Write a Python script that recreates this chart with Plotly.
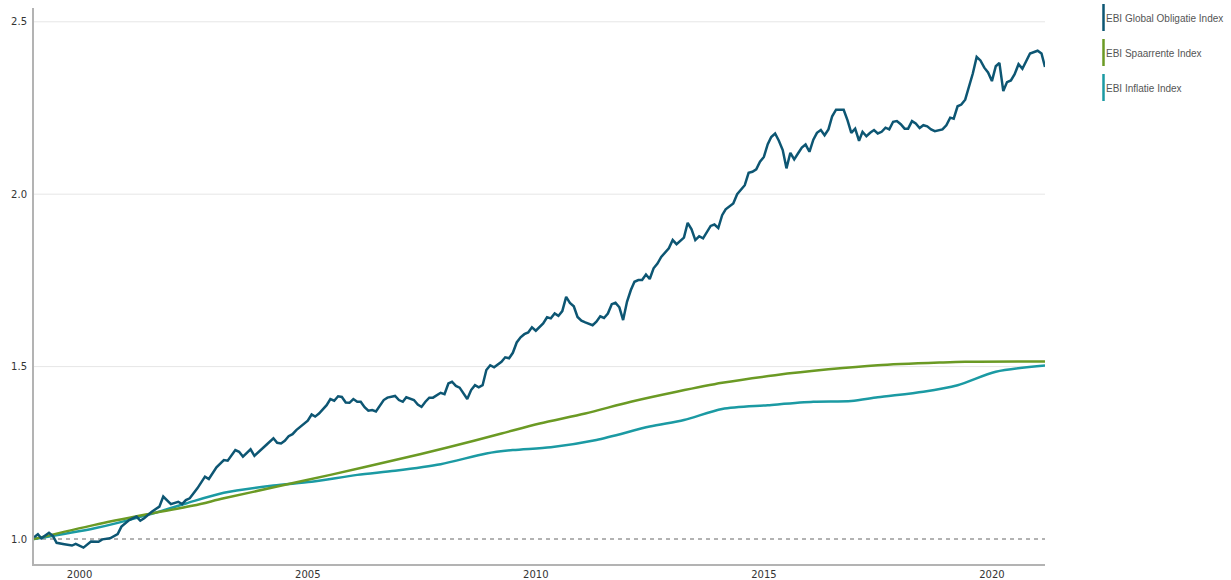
import plotly.graph_objects as go

# ---------------- data (month index from 1999-01, value) ----------------
global_months = [0, 1, 2, 4, 5, 6, 8, 10, 11, 12, 13, 15, 17, 18, 20, 22, 23, 25, 27, 28, 29, 31, 33, 34, 35, 36, 38, 39, 40, 41, 43, 45, 46, 48, 50, 51, 53, 54, 55, 57, 58, 60, 61, 63, 64, 65, 66, 67, 68,
                 69, 71, 72, 73, 74, 75, 77, 78, 79, 80, 81, 82, 83, 84, 85, 86, 87, 88, 89, 90, 91, 92, 93, 95, 96, 97, 98, 99, 100, 101, 102, 103, 104, 105, 106, 107, 108, 109, 110, 111, 112, 113, 114, 115, 116, 117, 118, 119, 120, 121, 122, 123, 124, 125, 126, 127, 128,
                 129, 130, 131, 132, 134, 135, 136, 137, 138, 139, 140, 141, 142, 143, 144, 145, 147, 148, 149, 150, 151, 152, 153, 154, 155, 156, 157, 158, 159, 160, 161, 162, 163, 164, 165, 167, 168, 169, 171, 172, 173, 174, 175, 176, 177, 178, 179, 180, 181, 182, 184, 185, 187,
                 188, 189, 190, 191, 192, 193, 194, 195, 196, 197, 198, 199, 200, 201, 202, 203, 204, 205, 206, 207, 208, 209, 210, 211, 212, 213, 214, 215, 216, 217, 218, 219, 220, 221, 222, 223, 224, 225, 226, 227, 228, 229, 230, 231, 232, 233, 234, 235, 236, 237, 239, 240,
                 241, 242, 243, 244, 245, 246, 247, 248, 249, 250, 251, 252, 253, 254, 255, 256, 257, 258, 259, 260, 261, 262, 264, 265, 266]
global_values = [1.005, 1.014, 1.002, 1.018, 1.009, 0.989, 0.985, 0.981, 0.986, 0.981, 0.975, 0.993, 0.992, 0.999, 1.002, 1.014, 1.036, 1.055, 1.065, 1.053, 1.060, 1.079, 1.094, 1.123, 1.113, 1.101, 1.108, 1.101, 1.113, 1.118, 1.147, 1.181, 1.174, 1.208, 1.229, 1.227, 1.258, 1.253, 1.239, 1.260, 1.241, 1.263, 1.272, 1.292, 1.279, 1.277, 1.285, 1.298, 1.304,
                 1.316, 1.335, 1.343, 1.361, 1.355, 1.364, 1.388, 1.406, 1.401, 1.414, 1.412, 1.396, 1.395, 1.406, 1.398, 1.398, 1.382, 1.372, 1.374, 1.370, 1.388, 1.403, 1.410, 1.415, 1.403, 1.398, 1.411, 1.406, 1.403, 1.390, 1.383, 1.398, 1.410, 1.410, 1.417, 1.424, 1.420, 1.451, 1.456, 1.444, 1.439, 1.424, 1.406, 1.432, 1.446, 1.440, 1.446, 1.490, 1.504, 1.498, 1.506, 1.514, 1.527, 1.524, 1.540, 1.570, 1.585,
                 1.594, 1.599, 1.614, 1.604, 1.625, 1.643, 1.640, 1.654, 1.647, 1.661, 1.702, 1.685, 1.675, 1.644, 1.633, 1.628, 1.620, 1.630, 1.646, 1.641, 1.654, 1.681, 1.685, 1.672, 1.635, 1.688, 1.722, 1.746, 1.751, 1.751, 1.767, 1.754, 1.785, 1.799, 1.818, 1.843, 1.867, 1.855, 1.874, 1.917, 1.898, 1.867, 1.878, 1.872, 1.888, 1.908, 1.912, 1.902, 1.939, 1.956, 1.973, 2.000, 2.026,
                 2.062, 2.065, 2.072, 2.094, 2.108, 2.145, 2.166, 2.176, 2.155, 2.128, 2.075, 2.120, 2.101, 2.118, 2.135, 2.144, 2.123, 2.158, 2.178, 2.186, 2.171, 2.188, 2.226, 2.245, 2.244, 2.245, 2.214, 2.178, 2.190, 2.155, 2.181, 2.168, 2.178, 2.186, 2.176, 2.181, 2.193, 2.188, 2.210, 2.212, 2.203, 2.190, 2.190, 2.212, 2.205, 2.192, 2.200, 2.197, 2.188, 2.183, 2.188, 2.200,
                 2.222, 2.219, 2.255, 2.260, 2.274, 2.311, 2.350, 2.398, 2.388, 2.367, 2.353, 2.328, 2.371, 2.381, 2.299, 2.325, 2.330, 2.348, 2.377, 2.364, 2.386, 2.408, 2.416, 2.408, 2.369]

spaar_months = [0, 16, 30, 42, 50, 64, 78, 95, 109, 123, 133, 145, 157, 169, 181, 195, 209, 222, 239, 245, 266]
spaar_values = [1.000, 1.041, 1.072, 1.097, 1.118, 1.152, 1.186, 1.229, 1.266, 1.306, 1.335, 1.364, 1.398, 1.427, 1.453, 1.475, 1.492, 1.504, 1.512, 1.514, 1.515]

infl_months = [0, 16, 30, 40, 50, 63, 73, 85, 95, 107, 119, 126, 136, 148, 162, 171, 181, 193, 205, 215, 222, 234, 243, 253, 266]
infl_values = [1.000, 1.031, 1.070, 1.103, 1.134, 1.155, 1.166, 1.186, 1.198, 1.217, 1.248, 1.258, 1.266, 1.287, 1.326, 1.345, 1.377, 1.388, 1.398, 1.400, 1.411, 1.427, 1.446, 1.485, 1.503]

series_names = ["EBI Global Obligatie Index", "EBI Spaarrente Index", "EBI Inflatie Index"]
series_colors = ["#0d5673", "#6b9a24", "#1b9aa3"]

y_ticks = [1.0, 1.5, 2.0, 2.5]
y_tick_text = ["1.0", "1.5", "2.0", "2.5"]
x_ticks = ["2000-01-01", "2005-01-01", "2010-01-01", "2015-01-01", "2020-01-01"]
x_tick_text = ["2000", "2005", "2010", "2015", "2020"]
baseline = 1.0


def to_date(m):
    return f"{1999 + m // 12}-{m % 12 + 1:02d}-01"


fig = go.Figure()
fig.add_trace(go.Scatter(x=[to_date(m) for m in infl_months], y=infl_values, mode="lines",
                         line=dict(color=series_colors[2], width=2.5, shape="spline", smoothing=0.8),
                         name=series_names[2], showlegend=False))
fig.add_trace(go.Scatter(x=[to_date(m) for m in spaar_months], y=spaar_values, mode="lines",
                         line=dict(color=series_colors[1], width=2.5, shape="spline", smoothing=0.8),
                         name=series_names[1], showlegend=False))
fig.add_trace(go.Scatter(x=[to_date(m) for m in global_months], y=global_values, mode="lines",
                         line=dict(color=series_colors[0], width=2.5),
                         name=series_names[0], showlegend=False))

W, H = 1231, 580
ml, mr, mt, mb = 34, 186, 8, 16
pw, ph = W - ml - mr, H - mt - mb

shapes = []
# grid lines (not at baseline)
for t in y_ticks:
    if t != baseline:
        shapes.append(dict(type="line", xref="paper", yref="y", x0=0, x1=1, y0=t, y1=t,
                           line=dict(color="#e6e6e6", width=1), layer="below"))
# dashed baseline
shapes.append(dict(type="line", xref="paper", yref="y", x0=0, x1=1, y0=baseline, y1=baseline,
                   line=dict(color="#666666", width=1, dash="4px,4px"), layer="below"))

annotations = []
legend_px_y = [18, 53, 88]
for name, col, py in zip(series_names, series_colors, legend_px_y):
    bx = (1103.5 - ml) / pw
    y0 = (H - mb - (py - 14)) / ph
    y1 = (H - mb - (py + 13)) / ph
    shapes.append(dict(type="line", xref="paper", yref="paper", x0=bx, x1=bx, y0=y0, y1=y1,
                       line=dict(color=col, width=2.5)))
    annotations.append(dict(xref="paper", yref="paper", x=(1104 - ml) / pw, y=(H - mb - py) / ph,
                            text=name, showarrow=False, xanchor="left", yanchor="middle",
                            font=dict(family="Liberation Sans, Arial", size=10, color="#555555")))

fig.update_layout(
    width=W, height=H,
    margin=dict(l=ml, r=mr, t=mt, b=mb, pad=0, autoexpand=False),
    plot_bgcolor="white", paper_bgcolor="white",
    shapes=shapes, annotations=annotations,
    showlegend=False,
    xaxis=dict(range=["1999-01-01", "2021-03-01"], tickvals=x_ticks, ticktext=x_tick_text,
               showgrid=False, zeroline=False, showline=True, linecolor="#b3b3b3", linewidth=2,
               ticks="", automargin=False,
               tickfont=dict(family="Verdana, DejaVu Sans", size=10, color="#333333")),
    yaxis=dict(range=[0.9275, 2.54], tickvals=y_ticks, ticktext=y_tick_text,
               showgrid=False, zeroline=False, showline=True, linecolor="#b3b3b3", linewidth=2,
               ticks="", ticklabelstandoff=3, automargin=False,
               tickfont=dict(family="Verdana, DejaVu Sans", size=10, color="#333333")),
)

fig.write_html("out.html")
